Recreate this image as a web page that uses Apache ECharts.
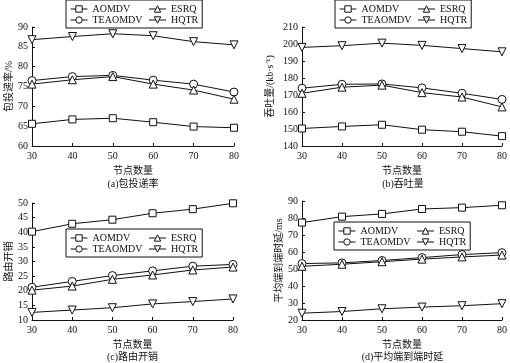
<!DOCTYPE html>
<html><head><meta charset="utf-8">
<script src="https://cdn.jsdelivr.net/npm/echarts@6/dist/echarts.min.js"></script>
<style>html,body{margin:0;padding:0;background:#fff}#c{width:510px;height:363px}</style>
</head><body><div id="c"></div>
<script>
const nodes = [30, 40, 50, 60, 70, 80];
const seriesNames = ['AOMDV', 'TEAOMDV', 'ESRQ', 'HQTR'];
const legendOrder = ['AOMDV', 'ESRQ', 'TEAOMDV', 'HQTR'];

// (a) packet delivery rate
const pdrAOMDV   = [65.6, 66.7, 67.0, 66.0, 64.9, 64.6];
const pdrTEAOMDV = [76.5, 77.5, 77.8, 76.6, 75.6, 73.6];
const pdrESRQ    = [75.6, 76.7, 77.5, 75.6, 74.1, 71.8];
const pdrHQTR    = [86.8, 87.6, 88.3, 87.8, 86.3, 85.5];

// (b) throughput
const thrAOMDV   = [150.3, 151.5, 152.5, 149.6, 148.4, 145.8];
const thrTEAOMDV = [174.0, 176.3, 176.5, 174.2, 171.0, 167.4];
const thrESRQ    = [171.0, 174.6, 175.8, 171.4, 168.8, 163.0];
const thrHQTR    = [198.0, 199.0, 200.5, 199.2, 197.3, 195.4];

// (c) routing overhead
const rohAOMDV   = [40.2, 42.9, 44.3, 46.5, 47.9, 49.9];
const rohTEAOMDV = [21.2, 23.2, 25.2, 26.8, 28.4, 29.0];
const rohESRQ    = [20.2, 21.6, 23.9, 25.4, 27.1, 28.1];
const rohHQTR    = [12.6, 13.4, 14.2, 15.5, 16.3, 17.2];

// (d) average end-to-end delay
const delAOMDV   = [77.3, 80.8, 82.4, 85.3, 86.1, 87.5];
const delTEAOMDV = [53.2, 53.6, 55.0, 56.7, 58.5, 59.6];
const delESRQ    = [51.6, 52.8, 54.3, 55.8, 57.1, 58.2];
const delHQTR    = [24.0, 25.0, 26.6, 27.6, 28.4, 29.6];

const panels = [
  {title: '(a)包投递率', yName: '包投递率/%', ymin: 60, ymax: 90, yint: 5,
   data: [pdrAOMDV, pdrTEAOMDV, pdrESRQ, pdrHQTR]},
  {title: '(b)吞吐量', yName: '吞吐量/(kb·s⁻¹)', ymin: 140, ymax: 210, yint: 10,
   data: [thrAOMDV, thrTEAOMDV, thrESRQ, thrHQTR]},
  {title: '(c)路由开销', yName: '路由开销', ymin: 10, ymax: 50, yint: 5,
   data: [rohAOMDV, rohTEAOMDV, rohESRQ, rohHQTR]},
  {title: '(d)平均端到端时延', yName: '平均端到端时延/ms', ymin: 20, ymax: 90, yint: 10,
   data: [delAOMDV, delTEAOMDV, delESRQ, delHQTR]}
];

const FONT = '"Liberation Serif", "Noto Sans CJK SC", serif';
const FS = 10;
const grids = [
  {left: 32, top: 27, width: 202, height: 119},
  {left: 302, top: 27, width: 202, height: 119},
  {left: 32, top: 203, width: 201, height: 117},
  {left: 302, top: 201, width: 201, height: 119}
];
const legendPos = [
  {left: 66, top: 0}, {left: 335, top: 0}, {left: 66, top: 229}, {left: 334, top: 222}
];
const titleTop = [179, 179, 352, 352];
const yNameGap = [17, 27, 17, 17];
const symbols = ['rect', 'circle', 'triangle', 'path://M0,0 L10,0 L5,9 Z'];
const symSizes = [7, 8, 8, 8];

const option = {
  animation: false,
  backgroundColor: '#fff',
  textStyle: {fontFamily: FONT, color: '#111'},
  grid: grids,
  title: panels.map((p, i) => ({
    text: p.title, left: grids[i].left + grids[i].width / 2, top: titleTop[i], textAlign: 'center',
    padding: 0,
    textStyle: {fontFamily: FONT, fontSize: FS, fontWeight: 'normal', color: '#111'}
  })),
  legend: panels.map((p, i) => ({
    data: legendOrder, orient: 'horizontal', left: legendPos[i].left, top: legendPos[i].top,
    width: 132, itemWidth: 17, itemHeight: 8, itemGap: 1, padding: [4, 4, 3, 4],
    borderColor: '#111', borderWidth: 1, backgroundColor: '#fff',
    itemStyle: {color: '#fff', borderColor: '#111', borderWidth: 1},
    lineStyle: {color: '#111', width: 1},
    formatter: name => (name === 'AOMDV' || name === 'TEAOMDV') ? '{w|' + name + '}' : '{n|' + name + '}',
    textStyle: {fontFamily: FONT, fontSize: FS, color: '#111', lineHeight: 10,
      rich: {
        w: {width: 55, fontFamily: FONT, fontSize: FS, color: '#111', lineHeight: 10},
        n: {fontFamily: FONT, fontSize: FS, color: '#111', lineHeight: 10}
      }},
    selectedMode: false
  })),
  xAxis: panels.map((p, i) => ({
    gridIndex: i, type: 'value', min: 30, max: 80, interval: 10,
    name: '节点数量', nameLocation: 'middle', nameGap: 20,
    nameTextStyle: {fontFamily: FONT, fontSize: FS, color: '#111'},
    axisLine: {lineStyle: {color: '#111', width: 1}},
    axisTick: {inside: true, length: 3, lineStyle: {color: '#111'}},
    axisLabel: {fontFamily: FONT, fontSize: FS, color: '#111', margin: 5},
    splitLine: {show: false}
  })),
  yAxis: panels.map((p, i) => ({
    gridIndex: i, type: 'value', min: p.ymin, max: p.ymax, interval: p.yint,
    name: p.yName, nameLocation: 'middle', nameGap: yNameGap[i],
    nameTextStyle: {fontFamily: FONT, fontSize: FS, color: '#111'},
    axisLine: {show: true, lineStyle: {color: '#111', width: 1}},
    axisTick: {show: true, inside: true, length: 3, lineStyle: {color: '#111'}},
    axisLabel: {fontFamily: FONT, fontSize: FS, color: '#111', margin: 4},
    splitLine: {show: false}
  })),
  series: []
};

panels.forEach((p, i) => {
  seriesNames.forEach((name, k) => {
    option.series.push({
      name: name, type: 'line', xAxisIndex: i, yAxisIndex: i,
      data: nodes.map((x, j) => [x, p.data[k][j]]),
      symbol: symbols[k], symbolSize: symSizes[k],
      lineStyle: {color: '#111', width: 1},
      itemStyle: {color: '#fff', borderColor: '#111', borderWidth: 1}
    });
  });
});

echarts.init(document.getElementById('c'), null, {renderer: 'canvas'}).setOption(option);
</script></body></html>
